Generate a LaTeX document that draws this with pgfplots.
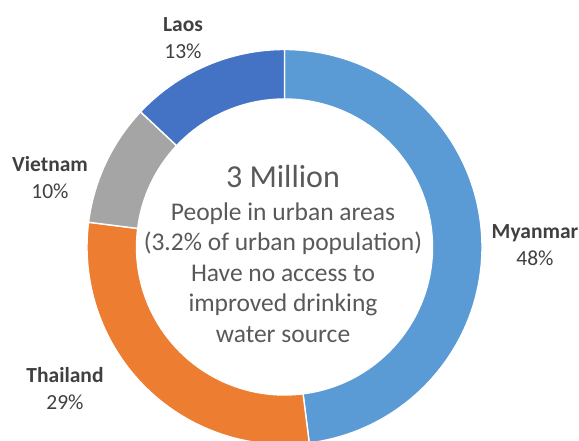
\documentclass[border=0pt]{standalone}
\usepackage{pgfplots}
\usepackage{pgfplotstable}
\pgfplotsset{compat=1.18}
\usepackage{fontspec}
\setmainfont{Carlito}
\definecolor{cMy}{HTML}{5B9BD5}
\definecolor{cTh}{HTML}{ED7D31}
\definecolor{cVi}{HTML}{A5A5A5}
\definecolor{cLa}{HTML}{4472C4}
\definecolor{labtxt}{HTML}{404040}
\definecolor{midtxt}{HTML}{595959}
\pgfplotstableread{
country pct
Myanmar 48
Thailand 29
Vietnam 10
Laos 13
}\donutdata
\begin{document}
\begin{tikzpicture}
\useasboundingbox (0,0) rectangle (579pt,441pt);
\clip (0,0) rectangle (579pt,441pt);
\pgfplotstablegetelem{0}{pct}\of\donutdata \let\pA\pgfplotsretval
\pgfplotstablegetelem{1}{pct}\of\donutdata \let\pB\pgfplotsretval
\pgfplotstablegetelem{2}{pct}\of\donutdata \let\pC\pgfplotsretval
\pgfplotstablegetelem{3}{pct}\of\donutdata \let\pD\pgfplotsretval
\pgfmathsetmacro{\aO}{90}
\pgfmathsetmacro{\aA}{\aO-3.6*\pA}
\pgfmathsetmacro{\aB}{\aA-3.6*\pB}
\pgfmathsetmacro{\aC}{\aB-3.6*\pC}
\pgfmathsetmacro{\aD}{\aC-3.6*\pD}
\def\Ro{197.5pt}
\def\Ri{148pt}
\begin{axis}[
  at={(0,0)}, anchor=south west,
  scale only axis, width=579pt, height=441pt,
  xmin=0, xmax=579, ymin=0, ymax=441,
  hide axis, clip=true]
\coordinate (c) at (axis cs:284.5,194);
\fill[cMy,draw=white,line width=1.4pt] ([shift={(\aO:\Ro)}]c) arc[start angle=\aO,end angle=\aA,radius=\Ro] -- ([shift={(\aA:\Ri)}]c) arc[start angle=\aA,end angle=\aO,radius=\Ri] -- cycle;
\fill[cTh,draw=white,line width=1.4pt] ([shift={(\aA:\Ro)}]c) arc[start angle=\aA,end angle=\aB,radius=\Ro] -- ([shift={(\aB:\Ri)}]c) arc[start angle=\aB,end angle=\aA,radius=\Ri] -- cycle;
\fill[cVi,draw=white,line width=1.4pt] ([shift={(\aB:\Ro)}]c) arc[start angle=\aB,end angle=\aC,radius=\Ro] -- ([shift={(\aC:\Ri)}]c) arc[start angle=\aC,end angle=\aB,radius=\Ri] -- cycle;
\fill[cLa,draw=white,line width=1.4pt] ([shift={(\aC:\Ro)}]c) arc[start angle=\aC,end angle=\aD,radius=\Ro] -- ([shift={(\aD:\Ri)}]c) arc[start angle=\aD,end angle=\aC,radius=\Ri] -- cycle;
% labels
\node[align=center,text=labtxt,font=\fontsize{21.5}{27}\selectfont] at (axis cs:183,402.5) {\textbf{Laos}\\13\%};
\node[align=center,text=labtxt,font=\fontsize{21.5}{27}\selectfont] at (axis cs:50,263.5) {\textbf{Vietnam}\\10\%};
\node[align=center,text=labtxt,font=\fontsize{21.5}{27}\selectfont] at (axis cs:65,52.5) {\textbf{Thailand}\\29\%};
\node[align=center,text=labtxt,font=\fontsize{21.5}{27}\selectfont] at (axis cs:535,195.5) {\textbf{Myanmar}\\48\%};
% centre text
\node[text=midtxt,font=\fontsize{32}{36}\selectfont] at (axis cs:283,264) {3 Million};
\node[align=center,text=midtxt,font=\fontsize{25.5}{30.5}\selectfont] at (axis cs:283,168.4) {People in urban areas\\(3.2\% of urban population)\\Have no access to\\improved drinking\\water source};
\end{axis}
\end{tikzpicture}
\end{document}
